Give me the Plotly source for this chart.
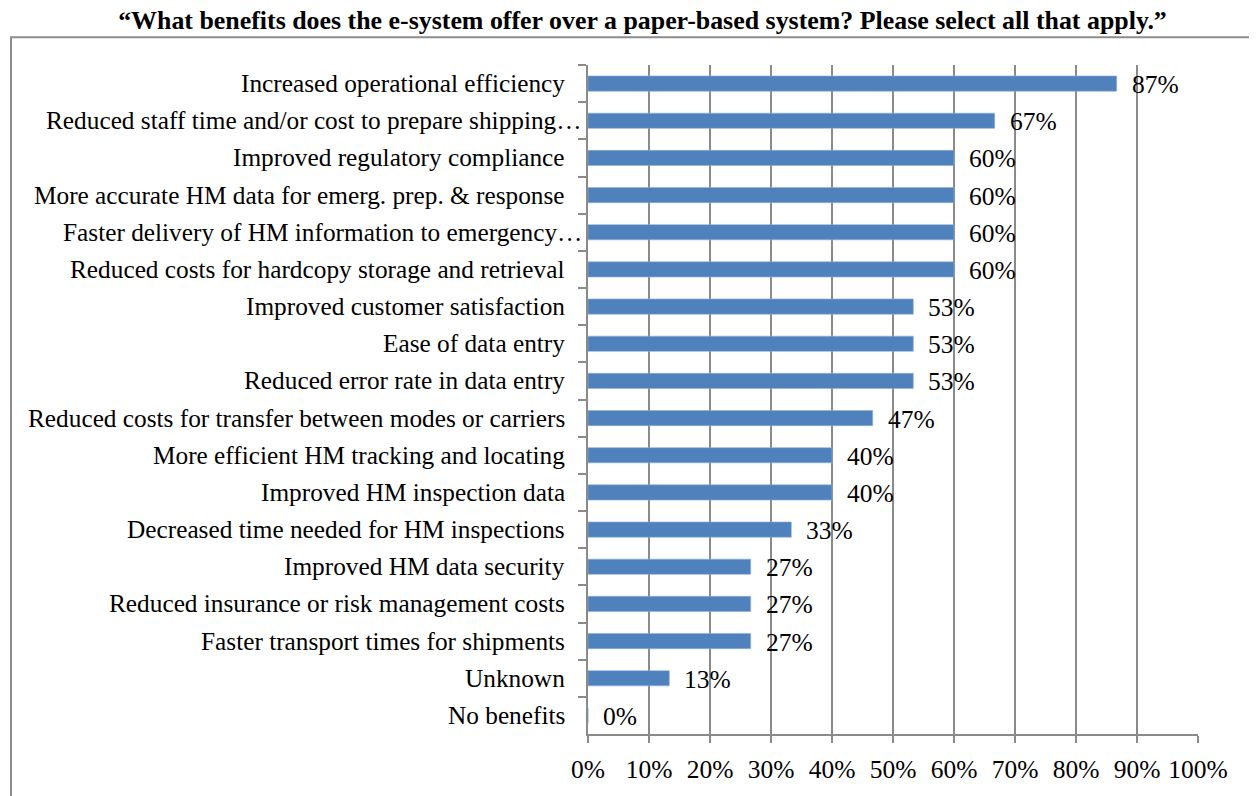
import plotly.graph_objects as go

categories = [
    "Increased operational efficiency",
    "Reduced staff time and/or cost to prepare shipping…",
    "Improved regulatory compliance",
    "More accurate HM data for emerg. prep. & response",
    "Faster delivery of HM information to emergency…",
    "Reduced costs for hardcopy storage and retrieval",
    "Improved customer satisfaction",
    "Ease of data entry",
    "Reduced error rate in data entry",
    "Reduced costs for transfer between modes or carriers",
    "More efficient HM tracking and locating",
    "Improved HM inspection data",
    "Decreased time needed for HM inspections",
    "Improved HM data security",
    "Reduced insurance or risk management costs",
    "Faster transport times for shipments",
    "Unknown",
    "No benefits",
]
values = [86.67, 66.67, 60, 60, 60, 60, 53.33, 53.33, 53.33, 46.67, 40, 40, 33.33, 26.67, 26.67, 26.67, 13.33, 0]
labels = ["87%", "67%", "60%", "60%", "60%", "60%", "53%", "53%", "53%", "47%", "40%", "40%", "33%", "27%", "27%", "27%", "13%", "0%"]
tick_vals = [0, 0.1, 0.2, 0.3, 0.4, 0.5, 0.6, 0.7, 0.8, 0.9, 1.0]
tick_text = ["0%", "10%", "20%", "30%", "40%", "50%", "60%", "70%", "80%", "90%", "100%"]
title_text = "“What benefits does the e-system offer over a paper-based system? Please select all that apply.”"

FONT = "Liberation Serif, Times New Roman, serif"
GRID = "#8a8a8a"
xs = [v / 100 for v in values]

# page body has an 8px margin, so figure coordinates are offset by 8px
W, H = 1249, 788
ML, MT = 580, 57
PW, PH = 610, 675

fig = go.Figure()
fig.add_trace(go.Bar(
    x=xs, y=categories, orientation="h",
    marker=dict(color="#4F81BD", line=dict(color="#8eb0dc", width=0.6)),
    width=0.41, hoverinfo="skip",
))

# value labels
for c, x, t in zip(categories, xs, labels):
    fig.add_annotation(x=x, y=c, text=t, showarrow=False, xanchor="left",
                       xshift=13, yshift=-1, font=dict(family=FONT, size=25.5, color="black"))

# category labels (truncated ones run right up to the axis, as in the original)
for c in categories:
    fig.add_annotation(x=0, y=c, text=c, showarrow=False, xanchor="right",
                       xshift=-4 if c.endswith("…") else -21, yshift=0.5,
                       font=dict(family=FONT, size=25.3, color="black"))

fig.add_shape(type="rect", xref="paper", yref="paper",
              x0=(3 - ML) / PW, x1=(W + 20 - ML) / PW,
              y0=-(H + 20 - MT - PH) / PH, y1=(MT + PH - 29) / PH,
              line=dict(color="#8c8c8c", width=2), layer="below")

fig.update_layout(
    width=W, height=H,
    margin=dict(l=ML, r=W - ML - PW, t=MT, b=H - MT - PH),
    paper_bgcolor="white", plot_bgcolor="white",
    showlegend=False,
    title=dict(text="<b>" + title_text + "</b>", x=0.508, xanchor="center",
               y=1 - 11.5 / H, yanchor="middle",
               font=dict(family=FONT, size=25.9, color="black")),
    font=dict(family=FONT, color="black"),
)
fig.update_xaxes(
    range=[0, 1], tickvals=tick_vals, ticktext=tick_text,
    showgrid=True, gridcolor=GRID, gridwidth=1.5,
    showline=True, linecolor=GRID, linewidth=2,
    ticks="outside", ticklen=7, tickcolor=GRID, tickwidth=1.5,
    tickfont=dict(family=FONT, size=25.5, color="black"),
    ticklabelstandoff=4,
    zeroline=False, fixedrange=True,
)
fig.update_yaxes(
    categoryorder="array", categoryarray=categories, autorange="reversed",
    showline=True, linecolor=GRID, linewidth=2,
    ticks="outside", ticklen=8, tickcolor=GRID, tickwidth=1.5, tickson="boundaries",
    showticklabels=False,
    showgrid=False, zeroline=False, fixedrange=True,
)

fig.write_html("out.html")
